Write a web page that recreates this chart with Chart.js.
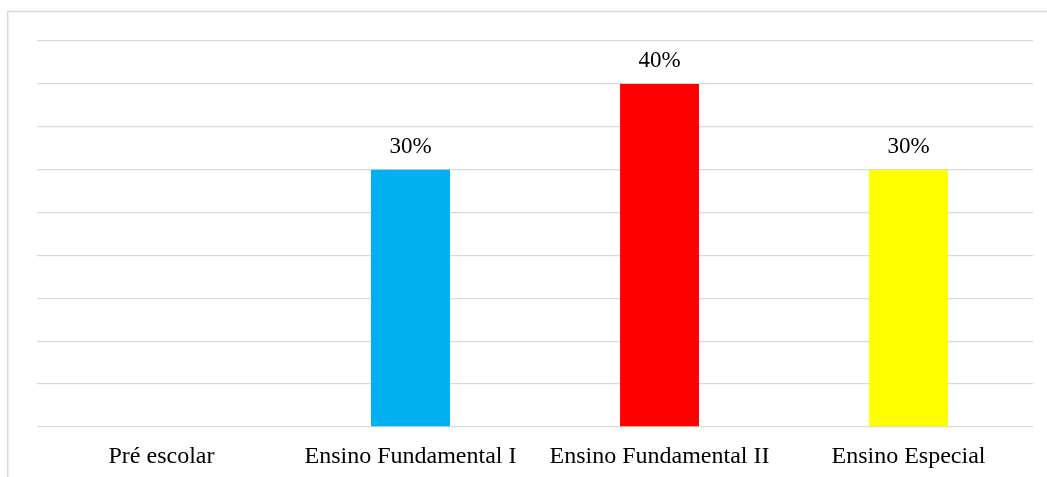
<!DOCTYPE html>
<html>
<head>
<meta charset="utf-8">
<script src="https://cdn.jsdelivr.net/npm/chart.js@4/dist/chart.umd.min.js"></script>
<style>
  html, body { margin: 0; padding: 0; background: #fff; }
  #wrap { position: relative; width: 1047px; height: 477px; }
</style>
</head>
<body>
<div id="wrap"><canvas id="chart" width="1047" height="477"></canvas></div>
<script>
const categories = ["Pré escolar", "Ensino Fundamental I", "Ensino Fundamental II", "Ensino Especial"];
const percentages = [0, 30, 40, 30];
const barColors = ["#7f7f7f", "#00B0F0", "#FF0000", "#FFFF00"];

// moldura cinza (só esquerda e topo, como no original)
const framePlugin = {
  id: "frame",
  beforeDraw(chart) {
    const c = chart.ctx;
    c.save();
    c.strokeStyle = "#D9D9D9";
    c.lineWidth = 1.5;
    c.beginPath();
    c.moveTo(7.75, 477);
    c.lineTo(7.75, 11.5);
    c.lineTo(1047, 11.5);
    c.stroke();
    c.restore();
  }
};

// rótulos de porcentagem acima das barras
const valueLabels = {
  id: "valueLabels",
  afterDatasetsDraw(chart) {
    const c = chart.ctx;
    const meta = chart.getDatasetMeta(0);
    c.save();
    c.font = "23px 'Liberation Serif', 'Times New Roman', serif";
    c.fillStyle = "#000";
    c.textAlign = "center";
    c.textBaseline = "alphabetic";
    meta.data.forEach((bar, i) => {
      const v = percentages[i];
      if (!v) return;
      c.fillText(v + "%", bar.x, bar.y - 17);
    });
    c.restore();
  }
};

new Chart(document.getElementById("chart"), {
  type: "bar",
  data: {
    labels: categories,
    datasets: [{
      data: percentages,
      backgroundColor: barColors,
      borderWidth: 0,
      categoryPercentage: 1,
      barPercentage: 0.317
    }]
  },
  options: {
    responsive: false,
    animation: false,
    events: [],
    layout: { padding: { left: 37, right: 14, top: 41, bottom: 0 } },
    plugins: {
      legend: { display: false },
      tooltip: { enabled: false }
    },
    scales: {
      x: {
        grid: { display: false, drawTicks: false },
        border: { display: false },
        ticks: {
          color: "#000",
          padding: 15,
          autoSkip: false,
          maxRotation: 0,
          font: { family: "'Liberation Serif', 'Times New Roman', serif", size: 24 }
        },
        afterFit(scale) { scale.height = 50; }
      },
      y: {
        min: 0,
        max: 45,
        ticks: { display: false, stepSize: 5 },
        grid: { color: "#D9D9D9", lineWidth: 1.3, drawTicks: false },
        border: { display: false },
        afterFit(scale) { scale.width = 0; }
      }
    }
  },
  plugins: [framePlugin, valueLabels]
});
</script>
</body>
</html>
